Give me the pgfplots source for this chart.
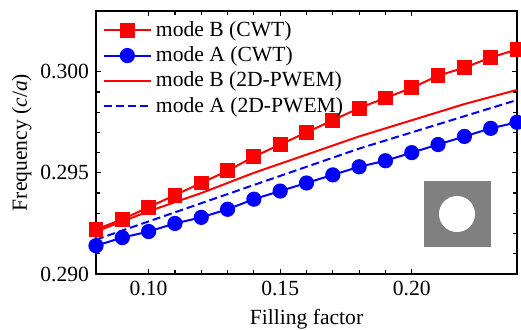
\documentclass[border=0pt]{standalone}
\usepackage{fontspec}
\setmainfont{Liberation Serif}
\usepackage{pgfplots}
\pgfplotsset{compat=1.18}
\newcommand{\fs}{\fontsize{10.8}{12.5}\selectfont}
\begin{document}
\begin{tikzpicture}
\begin{axis}[
  scale only axis,
  width=210.5pt, height=131.5pt,
  xmin=0.08, xmax=0.24, ymin=0.290, ymax=0.303,
  xtick={0.10,0.15,0.20}, ytick={0.290,0.295,0.300},
  minor x tick num=4, minor y tick num=4,
  tick align=inside, major tick length=2.5pt, minor tick length=2pt,
  axis line style={line width=0.75pt}, every tick/.style={black, line width=0.6pt},
  /pgf/number format/assume math mode=true,
  xticklabel style={/pgf/number format/.cd, fixed, fixed zerofill, precision=2},
  yticklabel style={/pgf/number format/.cd, fixed, fixed zerofill, precision=3},
  scaled y ticks=false, scaled x ticks=false,
  tick label style={font=\fs},
  label style={font=\fs},
  xlabel={Filling factor},
  ylabel={Frequency (\textit{c}/\textit{a})},
  ylabel shift=-2.5pt,
  legend style={draw=none, fill=none, font=\fs, at={(rel axis cs:0.015,0.978)}, anchor=north west,
    inner sep=0pt, row sep=-0.3pt, /tikz/every even column/.append style={column sep=0pt}},
  legend cell align=left,
  legend image code/.code={\draw[mark repeat=2,mark phase=2,#1] plot coordinates {(0cm,0cm) (0.415cm,0cm) (0.83cm,0cm)};},
  every axis plot/.append style={line width=1pt},
]
\addplot[red, mark=square*, mark size=3.2pt, mark options={solid}] coordinates {
(0.08,0.2922) (0.09,0.2927) (0.10,0.2933) (0.11,0.2939) (0.12,0.2945) (0.13,0.2951)
(0.14,0.2958) (0.15,0.2964) (0.16,0.2970) (0.17,0.2976) (0.18,0.2982) (0.19,0.2987)
(0.20,0.2992) (0.21,0.2998) (0.22,0.3002) (0.23,0.3007) (0.24,0.3011)};
\addlegendentry{mode B (CWT)}
\addplot[blue, mark=*, mark size=3.3pt, mark options={solid}] coordinates {
(0.08,0.2914) (0.09,0.2918) (0.10,0.2921) (0.11,0.2925) (0.12,0.2928) (0.13,0.2932)
(0.14,0.2937) (0.15,0.2941) (0.16,0.2945) (0.17,0.2949) (0.18,0.2953) (0.19,0.2956)
(0.20,0.2960) (0.21,0.2964) (0.22,0.2968) (0.23,0.2972) (0.24,0.2975)};
\addlegendentry{mode A (CWT)}
\addplot[red, no marks] coordinates {
(0.08,0.2921) (0.10,0.2931) (0.12,0.2940) (0.14,0.2950) (0.16,0.2959)
(0.18,0.2968) (0.20,0.2976) (0.22,0.2984) (0.24,0.2991)};
\addlegendentry{mode B (2D-PWEM)}
\addplot[blue, no marks, dash pattern=on 4pt off 2pt] coordinates {
(0.08,0.2917) (0.10,0.2926) (0.12,0.2935) (0.14,0.2944) (0.16,0.2953)
(0.18,0.2962) (0.20,0.2970) (0.22,0.2978) (0.24,0.2986)};
\addlegendentry{mode A (2D-PWEM)}
\fill[black!50] (rel axis cs:0.779,0.1015) rectangle (rel axis cs:0.938,0.355);
\fill[white] (rel axis cs:0.8575,0.2281) circle (9pt);
\coordinate (bl) at (rel axis cs:0,0);
\coordinate (tr) at (rel axis cs:1,1);
\end{axis}
\pgfresetboundingbox
\path[use as bounding box] ([xshift=-48pt,yshift=-27.5pt]bl) rectangle ([xshift=2pt,yshift=5.5pt]tr);
\end{tikzpicture}
\end{document}
